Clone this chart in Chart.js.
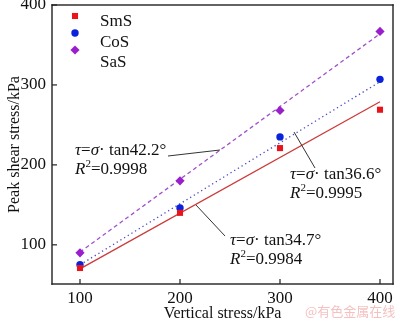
<!DOCTYPE html>
<html>
<head>
<meta charset="utf-8">
<script src="https://cdn.jsdelivr.net/npm/chart.js@4.4.0/dist/chart.umd.min.js"></script>
<style>
  html, body { margin: 0; padding: 0; background: #fff; }
  #wrap { width: 400px; height: 323px; position: relative; }
</style>
</head>
<body>
<div id="wrap"><canvas id="shear_chart"></canvas></div>
<script>
// values
var stress = [100, 200, 300, 400];
var sms_vals = [71, 140, 221, 269];
var cos_vals = [75, 146, 235, 307];
var sas_vals = [90, 180, 268, 367];
// fitted lines, end points (x = 100, 400)
var fit_x = [100, 400];
var sms_fit = [70, 279];
var cos_fit = [75, 304];
var sas_fit = [91, 364];
var tick_vals = [100, 200, 300, 400];
var series_names = ['SmS', 'CoS', 'SaS'];

var serif = '"Liberation Serif", "DejaVu Serif", serif';
var axis_col = '#222';

function pts(xs, ys){
    let out = [];
    for (var i = 0; i < xs.length; i++) {
        out.push({x: xs[i], y: ys[i]});
    }
    return out;
}

// legend, equations, watermark, box
var notes = {
    id: 'notes',
    afterDraw(chart){
        const c = chart.ctx;
        const xs = chart.scales.x, ys = chart.scales.y;
        const L = xs.left, R = xs.right, T = ys.top, B = ys.bottom;
        c.save();
        // box as thin filled bars
        c.fillStyle = axis_col;
        c.fillRect(L - .7, T - .7, R - L + 1.4, 1.4);
        c.fillRect(L - .7, B - .7, R - L + 1.4, 1.4);
        c.fillRect(L - .7, T - .7, 1.4, B - T + 1.4);
        c.fillRect(R - .7, T - .7, 1.4, B - T + 1.4);
        for (var k = 0; k < tick_vals.length; k++) {
            let px = xs.getPixelForValue(tick_vals[k]);
            c.fillRect(px - .6, B - 5, 1.2, 5);
            let py = ys.getPixelForValue(tick_vals[k]);
            c.fillRect(L, py - .6, 5, 1.2);
        }

        const mk_y = [16, 33, 50];
        const tx_y = [22, 43, 63];
        c.textBaseline = 'middle';
        for (var i = 0; i < 3; i++) {
            let ds = chart.data.datasets[i];
            c.fillStyle = ds.backgroundColor;
            Chart.helpers.drawPoint(c, {pointStyle: ds.pointStyle, radius: ds.pointRadius, rotation: 0, borderWidth: 0}, 75, mk_y[i]);
            c.fillStyle = '#111';
            c.font = '17px ' + serif;
            c.fillText(series_names[i], 100, tx_y[i]);
        }

        c.strokeStyle = '#333';
        c.lineWidth = 1;
        c.setLineDash([]);
        c.beginPath();
        c.moveTo(168, 156); c.lineTo(220, 150);
        c.moveTo(294, 132); c.lineTo(315, 168);
        c.moveTo(196, 205); c.lineTo(225, 236);
        c.stroke();
        function eq(x, y, ang, r2){
            c.fillStyle = '#111';
            c.font = 'italic 17px ' + serif;
            c.fillText('τ', x, y);
            let w = c.measureText('τ').width;
            c.font = '17px ' + serif;
            c.fillText('=', x + w, y);
            w += c.measureText('=').width;
            c.font = 'italic 17px ' + serif;
            c.fillText('σ', x + w, y);
            w += c.measureText('σ').width;
            c.font = '17px ' + serif;
            c.fillText('· tan' + ang + '°', x + w, y);
            c.font = 'italic 17px ' + serif;
            c.fillText('R', x, y + 19);
            let w2 = c.measureText('R').width;
            c.font = '11px ' + serif;
            c.fillText('2', x + w2, y + 13);
            w2 += c.measureText('2').width;
            c.font = '17px ' + serif;
            c.fillText('=' + r2, x + w2, y + 19);
        }
        eq(75, 151, '42.2', '0.9998');
        eq(290, 175, '36.6', '0.9995');
        eq(230, 241, '34.7', '0.9984');

        c.font = '13px "Noto Sans CJK SC", sans-serif';
        c.fillStyle = 'rgba(238, 150, 150, .6)';
        c.fillText('@有色金属在线', 305, 311);
        c.restore();
    }
};

var shear_chart = new Chart(document.getElementById('shear_chart'), {
    type: 'scatter',
    data: {
        datasets: [{
            label: 'SmS',
            data: pts(stress, sms_vals),
            pointStyle: 'rect',
            pointRadius: 4.3,
            backgroundColor: '#e8131b',
            borderWidth: 0
        }, {
            label: 'CoS',
            data: pts(stress, cos_vals),
            pointStyle: 'circle',
            pointRadius: 3.7,
            backgroundColor: '#0a22dc',
            borderWidth: 0
        }, {
            label: 'SaS',
            data: pts(stress, sas_vals),
            pointStyle: 'rectRot',
            pointRadius: 4.6,
            backgroundColor: '#9a1fcc',
            borderWidth: 0
        }, {
            data: pts(fit_x, sms_fit),
            showLine: true,
            pointRadius: 0,
            borderColor: '#cc3a3a',
            borderWidth: 1.3
        }, {
            data: pts(fit_x, cos_fit),
            showLine: true,
            pointRadius: 0,
            borderColor: '#4a4ac8',
            borderWidth: 1.3,
            borderDash: [1.3, 3]
        }, {
            data: pts(fit_x, sas_fit),
            showLine: true,
            pointRadius: 0,
            borderColor: '#a050cc',
            borderWidth: 1.3,
            borderDash: [4, 3]
        }]
    },
    options: {
        responsive: true,
        maintainAspectRatio: false,
        animation: false,
        layout: {
            padding: {left: 0, top: 5, right: 7, bottom: 0}
        },
        scales: {
            x: {
                type: 'linear',
                position: 'bottom',
                min: 72,
                max: 413,
                afterBuildTicks: s => { s.ticks = tick_vals.map(v => ({value: v})); },
                afterFit: s => { s.height = 39; s.paddingLeft = 0; s.paddingRight = 0; },
                grid: {display: false, drawTicks: false},
                border: {display: false},
                ticks: {
                    padding: 4,
                    color: '#111',
                    font: {family: serif, size: 17}
                },
                title: {
                    display: true,
                    text: 'Vertical stress/kPa',
                    color: '#111',
                    padding: {top: 0, bottom: 0},
                    font: {family: serif, size: 16}
                }
            },
            y: {
                position: 'left',
                min: 51,
                max: 400,
                afterBuildTicks: s => { s.ticks = tick_vals.map(v => ({value: v})); },
                afterFit: s => { s.width = 52; s.paddingTop = 0; s.paddingBottom = 0; },
                grid: {display: false, drawTicks: false},
                border: {display: false},
                ticks: {
                    padding: 6,
                    color: '#111',
                    font: {family: serif, size: 17}
                },
                title: {
                    display: true,
                    text: 'Peak shear stress/kPa',
                    color: '#111',
                    padding: {top: 5, bottom: 0},
                    font: {family: serif, size: 16}
                }
            }
        },
        plugins: {
            legend: false
        }
    },
    plugins: [notes]
});
</script>
</body>
</html>
